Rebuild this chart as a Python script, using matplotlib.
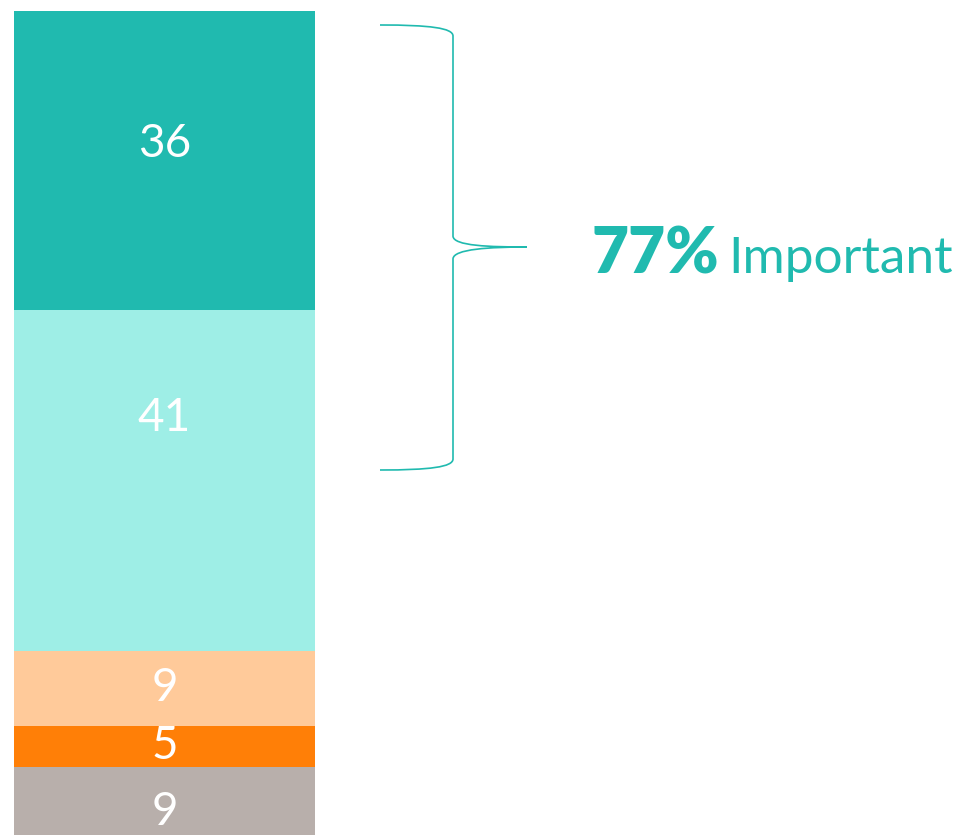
import matplotlib.pyplot as plt
from matplotlib.path import Path
from matplotlib.patches import PathPatch

# stacked segments, bottom to top
labels = ["9", "5", "9", "41", "36"]
values = [9, 5, 9, 41, 36]
colors = ["#B8AFAB", "#FF7F07", "#FFCA9A", "#9EEEE6", "#20BAAF"]
label_shift = [-0.9, 0, 0, 7.5, 2]   # label nudges in data units, as in the original
important_share = 77
teal = "#20BAAF"

plt.rcParams['font.family'] = ['Lato', 'DejaVu Sans']

fig = plt.figure(figsize=(9.68, 8.35), dpi=100)
ax = fig.add_axes([0, 0, 1, 1])

bottom = 0
for lab, v, c, s in zip(labels, values, colors, label_shift):
    ax.bar(0, v, bottom=bottom, width=1, color=c, edgecolor='none')
    ax.text(0, bottom + v / 2 + s, lab, ha='center', va='center',
            color='white', fontsize=33, fontweight='normal')
    bottom += v

# bar spans pixels 14..315 of 968; top at px 11, scale ~8.32 px per unit
ax.set_xlim(-0.5 - 14 / 301, -0.5 + 954 / 301)
ax.set_ylim((842 - 835) / 8.32, 100 + 11 / 8.32)
ax.axis('off')

# overlay in pixel coordinates for brace and annotation
ov = fig.add_axes([0, 0, 1, 1])
ov.set_xlim(0, 968)
ov.set_ylim(835, 0)
ov.axis('off')

verts = [
    (380, 25), (430, 25), (453, 28), (453, 36),
    (453, 236),
    (453, 246), (490, 247), (527, 247),
    (490, 247), (453, 249), (453, 259),
    (453, 459),
    (453, 467), (430, 470), (380, 470),
]
codes = [Path.MOVETO, Path.CURVE4, Path.CURVE4, Path.CURVE4,
         Path.LINETO,
         Path.CURVE4, Path.CURVE4, Path.CURVE4,
         Path.CURVE4, Path.CURVE4, Path.CURVE4,
         Path.LINETO,
         Path.CURVE4, Path.CURVE4, Path.CURVE4]
ov.add_patch(PathPatch(Path(verts, codes), facecolor='none', edgecolor=teal, lw=1.2))

ov.text(592, 273, f"{important_share}%", color=teal, fontsize=46,
        fontweight='heavy', ha='left', va='baseline')
ov.text(728, 273, "Important", color=teal, fontsize=37,
        fontweight='normal', ha='left', va='baseline')

fig.savefig("out.png", dpi=100)
